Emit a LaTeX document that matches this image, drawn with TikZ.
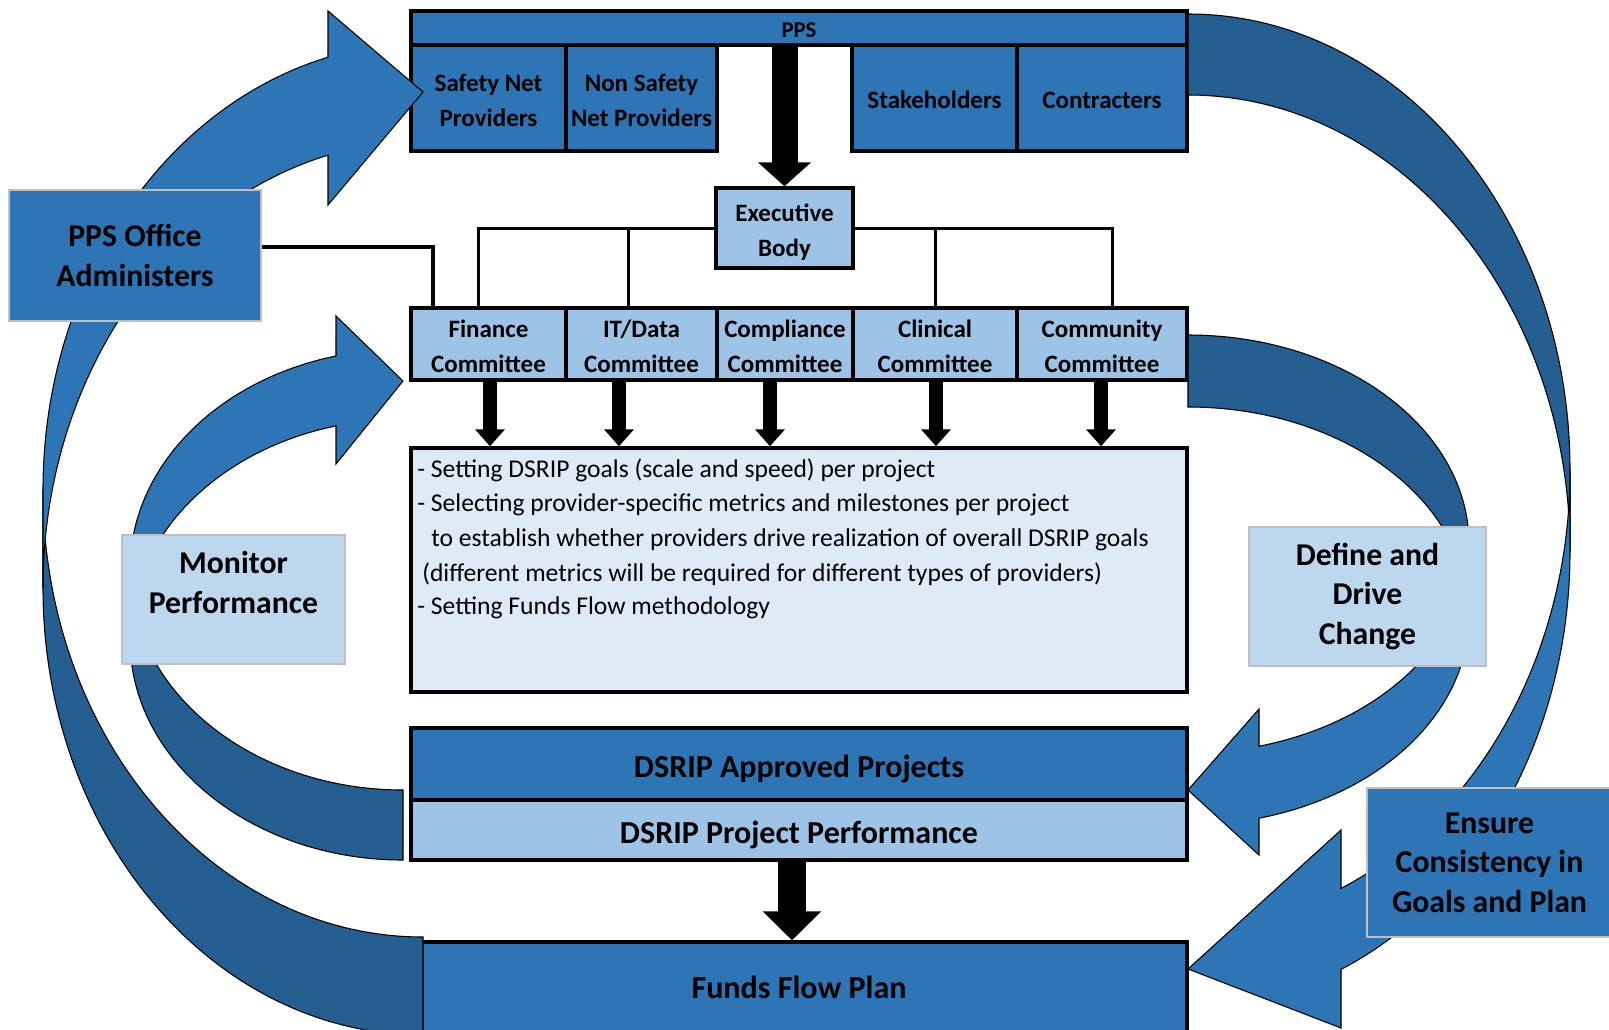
\documentclass[tikz,border=0pt]{standalone}
\usepackage{fontspec}
\setmainfont{Carlito}
\usetikzlibrary{arrows.meta,calc}
\pgfdeclarelayer{background}
\pgfsetlayers{background,main}
\definecolor{midblue}{HTML}{2E75B6}
\definecolor{darkblue}{HTML}{255E91}
\definecolor{lightblue}{HTML}{9DC3E6}
\definecolor{paleblue}{HTML}{BDD7EE}
\definecolor{textbg}{HTML}{DEEBF7}
\definecolor{lblborder}{HTML}{BFBFBF}
\newcommand{\orgS}{\rule[-5.05pt]{0pt}{26.25pt}}
\newcommand{\bigS}{\rule[-6pt]{0pt}{32.6pt}}
\newcommand{\fundS}{\rule[-6pt]{0pt}{28.8pt}}
\begin{document}
\begin{tikzpicture}[x=0.75pt,y=-0.75pt,line join=miter,
  wh/.style 2 args={minimum width=#1*0.75pt,minimum height=#2*0.75pt},
  orgbox/.style={draw=black,line width=2.6pt,inner sep=0pt,align=center,font=\bfseries\fontsize{18.75pt}{26.25pt}\selectfont},
  bigbox/.style={orgbox,font=\bfseries\fontsize{24pt}{30pt}\selectfont},
  lblbox/.style={draw=lblborder,line width=1.2pt,inner sep=0pt,align=center,font=\bfseries\fontsize{23.8pt}{29.5pt}\selectfont},
  tree/.style={draw=black,line width=2.25pt},
  backband/.style={fill=darkblue,draw=black,line width=0.8pt},
  frontband/.style={fill=midblue,draw=black,line width=0.8pt},
  goalstext/.style={anchor=base west,inner sep=0pt,font=\fontsize{19.2pt}{25pt}\selectfont},
  bigdown/.style={draw=black,line width=19.5pt,-{Triangle[length=18pt,width=39pt]}},
  bigdowntwo/.style={draw=black,line width=21pt,-{Triangle[length=21.75pt,width=42.75pt]}},
  smalldown/.style={draw=black,line width=10.5pt,-{Triangle[length=12.75pt,width=21.75pt]}}
]
\useasboundingbox (0,0) rectangle (1609,1029);
\begin{pgfonlayer}{background}
\fill[white] (0,0) rectangle (1609,1029);
\end{pgfonlayer}

% helper coordinates
\coordinate (oc) at (433,247);
\coordinate (t1) at (478,0);
\coordinate (t2) at (628,0);
\coordinate (t3) at (935,0);
\coordinate (t4) at (1112,0);
\coordinate (a1) at (490,0);
\coordinate (a2) at (619,0);
\coordinate (a3) at (770,0);
\coordinate (a4) at (936,0);
\coordinate (a5) at (1101,0);
\coordinate (a6) at (792,0);

% executive body and committees
\node[orgbox,fill=lightblue,wh={137}{80}] (exec) at (784.5,228) {\orgS Executive\\\orgS Body};
\node[orgbox,fill=lightblue,wh={155}{72}] (fin) at (488.5,344) {\orgS Finance\\\orgS Committee};
\node[orgbox,fill=lightblue,wh={151}{72}] (itd) at (641.5,344) {\orgS IT/Data\\\orgS Committee};
\node[orgbox,fill=lightblue,wh={136}{72}] (comp) at (785,344) {\orgS Compliance\\\orgS Committee};
\node[orgbox,fill=lightblue,wh={164}{72}] (clin) at (935,344) {\orgS Clinical\\\orgS Committee};
\node[orgbox,fill=lightblue,wh={170}{72}] (comm) at (1102,344) {\orgS Community\\\orgS Committee};

% tree connectors (behind the boxes)
\begin{pgfonlayer}{background}
\draw[tree] (exec.west) -| (fin.north -| t1);
\draw[tree] (exec.west -| t2) -- (itd.north -| t2);
\draw[tree] (exec.east) -| (comm.north -| t4);
\draw[tree] (exec.east -| t3) -- (clin.north -| t3);
\end{pgfonlayer}

% PPS
\node[orgbox,fill=midblue,wh={776}{34},font=\bfseries\fontsize{17pt}{20pt}\selectfont,text height=14.5pt,text depth=0pt] (pps) at (799,28) {PPS};
\node[orgbox,fill=midblue,wh={155}{106}] (snp) at (488.5,98) {\orgS Safety Net\\\orgS Providers};
\node[orgbox,fill=midblue,wh={151}{106}] (nsnp) at (641.5,98) {\orgS Non Safety\\\orgS Net Providers};
\node[orgbox,fill=midblue,wh={165}{106}] (stake) at (934.5,98) {\orgS Stakeholders};
\node[orgbox,fill=midblue,wh={170}{106}] (contr) at (1102,98) {\orgS Contracters};

% goals box
\node[orgbox,fill=textbg,wh={776}{244}] (goals) at (799,570) {};
\node[goalstext] (g1) at (417,477) {- Setting DSRIP goals (scale and speed) per project};
\node[goalstext] (g2) at (417,511) {- Selecting provider-specific metrics and milestones per project};
\node[goalstext] (g3) at (431,546) {to establish whether providers drive realization of overall DSRIP goals};
\node[goalstext] (g4) at (422,581) {(different metrics will be required for different types of providers)};
\node[goalstext] (g5) at (417,614) {- Setting Funds Flow methodology};

% DSRIP and funds
\node[bigbox,fill=midblue,wh={776}{72}] (appr) at (799,764) {\bigS DSRIP Approved Projects};
\node[bigbox,fill=lightblue,wh={776}{60}] (perf) at (799,830) {\bigS DSRIP Project Performance};
\node[bigbox,fill=midblue,wh={765}{90}] (funds) at (804.5,987) {\fundS Funds Flow Plan\hspace*{8.25pt}};

% black arrows
\draw[bigdown] (pps.south -| exec.north) -- (exec.north);
\draw[smalldown] (fin.south -| a1) -- (goals.north -| a1);
\draw[smalldown] (itd.south -| a2) -- (goals.north -| a2);
\draw[smalldown] (comp.south -| a3) -- (goals.north -| a3);
\draw[smalldown] (clin.south -| a4) -- (goals.north -| a4);
\draw[smalldown] (comm.south -| a5) -- (goals.north -| a5);
\draw[bigdowntwo] (perf.south -| a6) -- (funds.north -| a6);

% curved arrow 1 (outer left, to Safety Net Providers)
\filldraw[backband] (423,1035) arc[start angle=90,end angle=180,x radius=380,y radius=447]
  -- (43,490) arc[start angle=180,end angle=90,x radius=380,y radius=447] -- cycle;
\filldraw[frontband] (43,490) arc[start angle=180,end angle=255.52,x radius=380,y radius=447]
  -- (328,11) -- (423,92) -- (328,205) -- (328,155.2)
  arc[start angle=255.52,end angle=180,x radius=380,y radius=447] -- cycle;

% curved arrow 2 (inner left, to Finance Committee)
\filldraw[backband] (403,860) arc[start angle=90,end angle=180,x radius=273,y radius=220.4]
  -- (130,569.6) arc[start angle=180,end angle=90,x radius=273,y radius=220.4] -- cycle;
\filldraw[frontband] (130,569.6) arc[start angle=180,end angle=255.79,x radius=273,y radius=220.4]
  -- (336,316) -- (403,381) -- (336,464) -- (336,425.9)
  arc[start angle=255.79,end angle=180,x radius=273,y radius=220.4] -- cycle;

% curved arrow 3 (inner right, to DSRIP Approved Projects)
\filldraw[backband] (1188,335) arc[start angle=270,end angle=360,x radius=281,y radius=209]
  -- (1469,616) arc[start angle=360,end angle=270,x radius=281,y radius=209] -- cycle;
\filldraw[frontband] (1469,616) arc[start angle=0,end angle=75.36,x radius=281,y radius=209]
  -- (1259,855) -- (1188,790) -- (1259,709) -- (1259,746.2)
  arc[start angle=75.36,end angle=0,x radius=281,y radius=209] -- cycle;

% curved arrow 4 (outer right, to Funds Flow Plan)
\filldraw[backband] (1188,14) arc[start angle=270,end angle=360,x radius=382,y radius=456.3]
  -- (1570,551.3) arc[start angle=360,end angle=270,x radius=382,y radius=456.3] -- cycle;
\filldraw[frontband] (1570,551.3) arc[start angle=0,end angle=66.39,x radius=382,y radius=456.3]
  -- (1341,1028) -- (1188,969) -- (1341,830) -- (1341,888.4)
  arc[start angle=66.39,end angle=0,x radius=382,y radius=456.3] -- cycle;

% label boxes
\node[lblbox,fill=midblue,wh={252}{131}] (office) at (135,255.5) {PPS Office\\Administers};
\draw[line width=3pt] (office.east |- oc) -| (fin.north -| oc);
\node[lblbox,fill=paleblue,wh={223}{129},text depth=25.5pt] (monitor) at (233.5,599.5) {Monitor\\Performance};
\node[lblbox,fill=paleblue,wh={237}{139}] (define) at (1367.5,596.5) {Define and\\Drive\\Change};
\node[lblbox,fill=midblue,wh={245}{149}] (ensure) at (1489.5,862.5) {Ensure\\Consistency in\\Goals and Plan};
\end{tikzpicture}
\end{document}
